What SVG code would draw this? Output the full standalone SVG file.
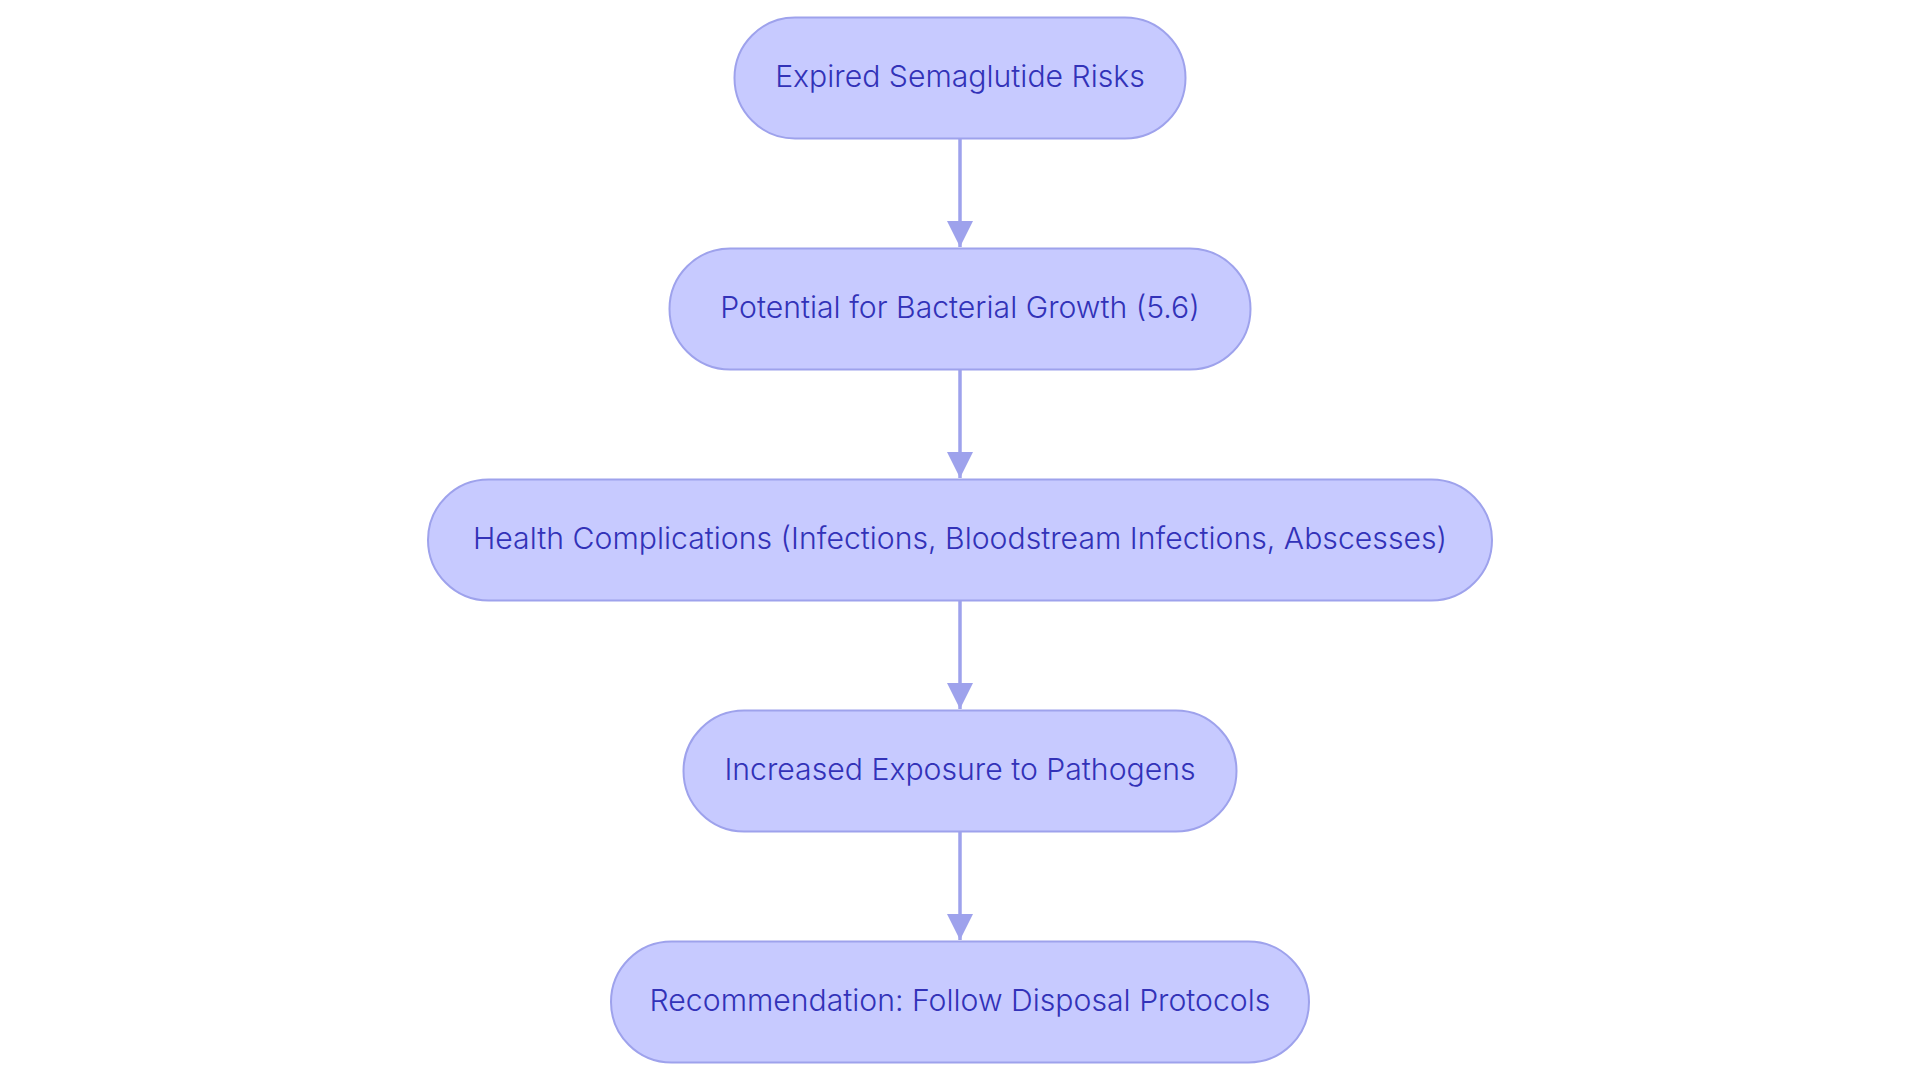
<svg xmlns="http://www.w3.org/2000/svg" width="1920" height="1083" viewBox="0 0 1920 1083">
<defs>
<marker id="ah" markerWidth="26" markerHeight="26" viewBox="0 0 26 26" refX="26" refY="13" orient="auto" markerUnits="userSpaceOnUse">
<path d="M0,0 L26,13 L0,26 Z" fill="#9EA2EC"/>
</marker>
<style>
.n rect{fill:#C7CAFF;stroke:#9EA2EC;stroke-width:2}
.n text{font-family:Inter,"Noto Sans",sans-serif;font-size:30.2px;font-weight:300;fill:#3232B8;text-anchor:middle}
.c line{stroke:#9EA2EC;stroke-width:3.5;marker-end:url(#ah)}
</style>
</defs>
<rect width="1920" height="1083" fill="#FFFFFF"/>
<g class="c" id="connectors">
<line x1="960" y1="139" x2="960" y2="247"/>
<line x1="960" y1="370" x2="960" y2="478"/>
<line x1="960" y1="601" x2="960" y2="709"/>
<line x1="960" y1="832" x2="960" y2="940"/>
</g>
<g class="n" id="n1"><rect x="734.5" y="17.5" width="451" height="121" rx="60.5"/><text x="960" y="87">Expired Semaglutide Risks</text></g>
<g class="n" id="n2"><rect x="669.5" y="248.5" width="581" height="121" rx="60.5"/><text x="960" y="318">Potential for Bacterial Growth (5.6)</text></g>
<g class="n" id="n3"><rect x="428" y="479.5" width="1064" height="121" rx="60.5"/><text x="960" y="549">Health Complications (Infections, Bloodstream Infections, Abscesses)</text></g>
<g class="n" id="n4"><rect x="683.5" y="710.5" width="553" height="121" rx="60.5"/><text x="960" y="780">Increased Exposure to Pathogens</text></g>
<g class="n" id="n5"><rect x="611" y="941.5" width="698" height="121" rx="60.5"/><text x="960" y="1011">Recommendation: Follow Disposal Protocols</text></g>
</svg>
